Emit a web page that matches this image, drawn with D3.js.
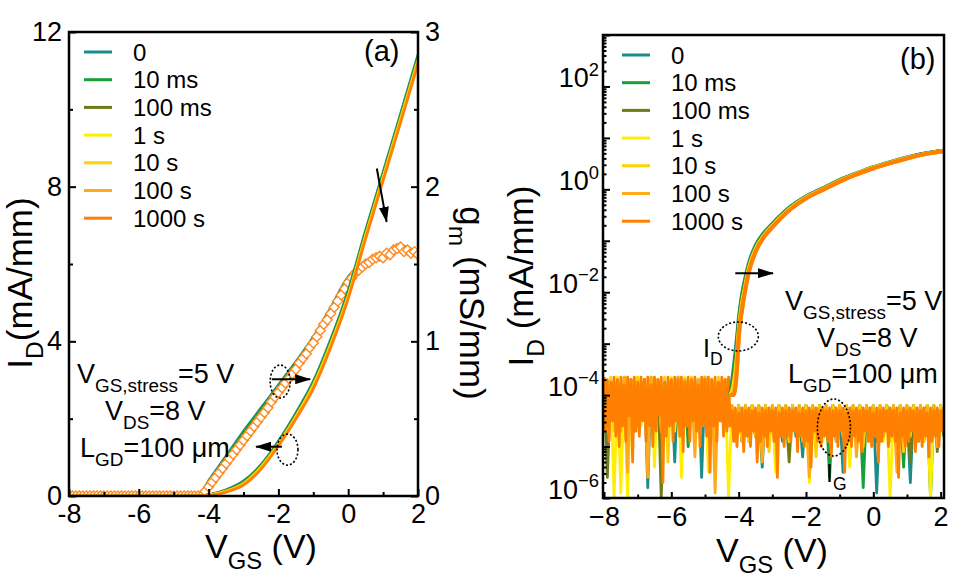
<!DOCTYPE html>
<html>
<head>
<meta charset="utf-8">
<script src="https://cdn.jsdelivr.net/npm/d3@7"></script>
<style>
  html, body { margin: 0; background: #fff; }
  svg { display: block; font-family: "Liberation Sans", Arial, sans-serif; }
</style>
</head>
<body>
<svg id="chart" width="978" height="585"></svg>
<script>
// Transfer curves after gate stress, (a) linear ID + gm, (b) log ID / IG.

const stress_times = ["0", "10 ms", "100 ms", "1 s", "10 s", "100 s", "1000 s"];
const series_colors = ["#1a8c8c", "#17a03a", "#6e7d17", "#ffee00", "#fcd200", "#ffaa1a", "#ff8000"];

// (a) VGS grid (V) shared by the ID and gm lines
const vgs_a = [-8, -4.3, -4.0, -3.5, -3.0, -2.5, -2.0, -1.5, -1.0, -0.5, 0, 0.5, 1.0, 1.5, 2.0];

// (a) ID in mA/mm, one row per stress time
const id_linear = [
  [0, 0, 0.03, 0.16, 0.39, 0.81, 1.42, 2.15, 2.97, 4.06, 5.32, 6.88, 8.38, 9.89, 11.42],
  [0, 0, 0.03, 0.15, 0.37, 0.79, 1.39, 2.11, 2.93, 4.01, 5.27, 6.83, 8.33, 9.84, 11.37],
  [0, 0, 0.02, 0.14, 0.35, 0.77, 1.37, 2.09, 2.90, 3.98, 5.23, 6.79, 8.29, 9.80, 11.32],
  [0, 0, 0.02, 0.13, 0.33, 0.75, 1.35, 2.06, 2.87, 3.94, 5.19, 6.75, 8.25, 9.76, 11.28],
  [0, 0, 0.02, 0.12, 0.31, 0.73, 1.33, 2.04, 2.84, 3.91, 5.16, 6.72, 8.22, 9.72, 11.24],
  [0, 0, 0.01, 0.11, 0.30, 0.71, 1.31, 2.01, 2.80, 3.87, 5.13, 6.68, 8.18, 9.68, 11.20],
  [0, 0, 0.01, 0.10, 0.28, 0.69, 1.29, 1.99, 2.77, 3.84, 5.10, 6.65, 8.15, 9.65, 11.17],
];

// (a) gm in mS/mm drawn as lines for 0 ... 100 s
const gm_lines = [
  [0, 0, 0.10, 0.26, 0.42, 0.57, 0.72, 0.87, 1.03, 1.22, 1.42, 1.52, 1.56, 1.62, 1.57],
  [0, 0, 0.09, 0.25, 0.41, 0.56, 0.71, 0.86, 1.02, 1.21, 1.41, 1.51, 1.56, 1.61, 1.57],
  [0, 0, 0.09, 0.24, 0.40, 0.55, 0.70, 0.85, 1.01, 1.20, 1.40, 1.51, 1.55, 1.61, 1.57],
  [0, 0, 0.08, 0.23, 0.39, 0.54, 0.69, 0.84, 1.00, 1.19, 1.40, 1.50, 1.55, 1.60, 1.56],
  [0, 0, 0.07, 0.22, 0.38, 0.53, 0.68, 0.83, 0.99, 1.18, 1.39, 1.50, 1.55, 1.60, 1.56],
  [0, 0, 0.07, 0.22, 0.37, 0.52, 0.68, 0.83, 0.99, 1.18, 1.39, 1.50, 1.54, 1.60, 1.56],
];

// (a) gm after 1000 s, sampled every 0.1 V from -8 V to 2 V (open diamonds)
const gm_markers = [
  0, 0, 0, 0, 0, 0, 0, 0, 0, 0, 0, 0, 0, 0, 0, 0, 0, 0, 0, 0,
  0, 0, 0, 0, 0, 0, 0, 0, 0, 0, 0, 0, 0, 0, 0, 0, 0, 0,
  0.00, 0.03, 0.06, 0.09, 0.12, 0.15, 0.18, 0.21, 0.24, 0.27,
  0.30, 0.33, 0.36, 0.39, 0.42, 0.45, 0.48, 0.51, 0.54, 0.57,
  0.61, 0.64, 0.67, 0.70, 0.73, 0.76, 0.79, 0.82, 0.86, 0.89,
  0.92, 0.96, 0.99, 1.03, 1.07, 1.11, 1.14, 1.18, 1.22, 1.26,
  1.30, 1.34, 1.38, 1.41, 1.44, 1.46, 1.48, 1.50, 1.51, 1.53,
  1.54, 1.55, 1.54, 1.57, 1.56, 1.59, 1.60, 1.61, 1.58, 1.59,
  1.57, 1.58, 1.56,
];

// (b) on-state ID, log10(mA/mm), on its own VGS grid
const vgs_b = [-4.25, -4.15, -4.05, -4.0, -3.9, -3.8, -3.7, -3.5, -3.25, -3.0, -2.5, -2.0, -1.5, -1.0, -0.5, 0, 0.5, 1.0, 1.5, 2.1];
const id_log = [
  [-4.0, -3.5, -2.9, -2.55, -2.05, -1.72, -1.45, -1.10, -0.85, -0.67, -0.36, -0.14, 0.02, 0.18, 0.31, 0.43, 0.53, 0.62, 0.69, 0.75],
  [-4.0, -3.6, -3.0, -2.62, -2.10, -1.77, -1.49, -1.13, -0.87, -0.69, -0.37, -0.15, 0.01, 0.17, 0.30, 0.42, 0.52, 0.61, 0.69, 0.75],
  [-4.0, -3.7, -3.1, -2.70, -2.16, -1.82, -1.52, -1.15, -0.88, -0.70, -0.38, -0.16, 0.01, 0.17, 0.30, 0.42, 0.52, 0.61, 0.69, 0.75],
  [-4.0, -3.8, -3.25, -2.78, -2.22, -1.87, -1.55, -1.17, -0.90, -0.71, -0.39, -0.16, 0.00, 0.16, 0.30, 0.42, 0.52, 0.61, 0.68, 0.74],
  [-4.0, -3.85, -3.35, -2.84, -2.28, -1.91, -1.58, -1.19, -0.91, -0.72, -0.40, -0.17, 0.00, 0.16, 0.29, 0.41, 0.51, 0.60, 0.68, 0.74],
  [-4.0, -3.95, -3.45, -2.88, -2.32, -1.93, -1.60, -1.21, -0.92, -0.73, -0.40, -0.17, -0.01, 0.15, 0.29, 0.41, 0.51, 0.60, 0.68, 0.74],
  [-4.0, -4.0, -3.5, -2.90, -2.35, -1.95, -1.62, -1.22, -0.93, -0.74, -0.41, -0.18, -0.01, 0.15, 0.29, 0.41, 0.51, 0.60, 0.68, 0.74],
];

// (b) leakage / noise floor, log10(mA/mm); 0 ... 100 s, every 0.1 V from -8 V to 2.1 V
const noise_0 = [
  -3.7, -4.5, -3.75, -4.6, -3.7, -4.4, -3.8, -5.5, -3.7, -4.6, -3.75, -4.5, -3.7, -5.8, -3.7, -4.6, -3.8, -4.4, -3.7, -4.5,
  -3.7, -5.3, -3.75, -4.6, -3.7, -4.5, -3.8, -4.7, -3.7, -5.6, -3.7, -4.5, -3.75, -4.6, -3.7, -4.4, -3.8, -4.6,
  -4.25, -4.8, -4.2, -4.7, -4.3, -4.9, -4.2, -4.6, -4.25, -5.4, -4.2, -4.8, -4.3, -4.7, -4.2, -4.9,
  -4.25, -4.6, -4.2, -4.8, -4.3, -5.2, -4.2, -4.7, -4.25, -4.9, -4.2, -4.6, -4.3, -4.8, -4.2, -4.7,
  -4.25, -5.5, -4.2, -4.8, -4.3, -4.6, -4.2, -4.9, -4.25, -4.7, -4.2, -5.9, -4.3, -4.8, -4.2, -4.6,
  -4.25, -4.9, -4.2, -4.7, -4.3, -5.7, -4.2, -4.8, -4.25, -4.6, -4.2, -4.9, -4.3, -4.7, -4.2, -4.8,
];
const noise_10ms = [
  -3.65, -4.6, -3.7, -4.5, -3.75, -4.7, -3.65, -4.4, -3.7, -4.6, -3.75, -4.5, -3.7, -4.8, -3.65, -4.5, -3.7, -4.6, -3.75, -4.4,
  -3.7, -4.7, -3.65, -4.5, -3.7, -5.0, -3.75, -4.6, -3.7, -4.4, -3.65, -4.6, -3.7, -4.9, -3.75, -4.5, -3.7, -4.6,
  -4.2, -4.7, -4.25, -4.9, -4.2, -4.6, -4.3, -4.8, -4.2, -4.7, -4.25, -4.9, -4.2, -5.3, -4.3, -4.6,
  -4.2, -4.8, -4.25, -4.7, -4.2, -4.9, -4.3, -4.6, -4.2, -4.8, -4.25, -4.7, -4.2, -5.6, -4.3, -4.9,
  -4.2, -4.6, -4.25, -4.8, -4.2, -4.7, -4.3, -5.8, -4.2, -4.6, -4.25, -4.9, -4.2, -4.7, -4.3, -4.8,
  -4.2, -4.6, -4.25, -5.4, -4.2, -4.7, -4.3, -4.9, -4.2, -4.6, -4.25, -6.0, -4.2, -4.7, -4.3, -4.8,
];
const noise_100ms = [
  -3.75, -5.6, -3.7, -4.5, -3.7, -4.6, -3.8, -4.4, -3.7, -4.7, -3.75, -4.5, -3.7, -4.6, -3.75, -4.4, -3.7, -6.0, -3.8, -4.6,
  -3.7, -4.5, -3.75, -4.7, -3.7, -4.4, -3.7, -4.6, -3.8, -4.5, -3.7, -5.2, -3.75, -4.6, -3.7, -4.5, -3.7, -4.4,
  -4.3, -4.7, -4.2, -4.9, -4.25, -4.6, -4.2, -4.8, -4.3, -4.7, -4.2, -4.9, -4.25, -4.6, -4.2, -4.8,
  -4.3, -5.3, -4.2, -4.7, -4.25, -4.9, -4.2, -4.6, -4.3, -4.8, -4.2, -4.7, -4.25, -4.9, -4.2, -4.6,
  -4.3, -4.8, -4.2, -5.2, -4.25, -4.7, -4.2, -4.9, -4.3, -4.6, -4.2, -4.8, -4.25, -4.7, -4.2, -4.9,
  -4.3, -4.6, -4.2, -4.8, -4.25, -5.3, -4.2, -4.7, -4.3, -4.9, -4.2, -4.6, -4.25, -5.1, -4.2, -4.8,
];
const noise_1s = [
  -3.65, -4.6, -3.7, -6.0, -3.65, -5.9, -3.7, -6.0, -3.75, -4.5, -3.65, -4.6, -3.7, -4.4, -3.65, -5.4, -3.7, -4.6, -3.75, -4.5,
  -3.65, -4.7, -3.7, -5.6, -3.65, -4.5, -3.7, -4.6, -3.75, -4.4, -3.65, -5.5, -3.7, -4.6, -3.65, -4.5, -3.7, -6.0,
  -4.2, -4.8, -4.25, -4.6, -4.2, -4.9, -4.3, -4.7, -4.2, -4.8, -4.25, -4.6, -4.2, -5.5, -4.3, -4.7,
  -4.2, -4.9, -4.25, -4.6, -4.2, -4.8, -4.3, -5.7, -4.2, -4.7, -4.25, -4.9, -4.2, -4.6, -4.3, -4.8,
  -4.2, -4.7, -4.25, -5.4, -4.2, -4.9, -4.3, -4.6, -4.2, -4.8, -4.25, -4.7, -4.2, -4.9, -4.3, -6.0,
  -4.2, -4.6, -4.25, -4.8, -4.2, -4.7, -4.3, -4.9, -4.2, -4.6, -4.25, -6.0, -4.2, -4.8, -4.3, -4.7,
];
const noise_10s = [
  -3.7, -4.5, -3.65, -4.7, -3.7, -4.4, -3.75, -5.1, -3.7, -4.6, -3.65, -4.5, -3.7, -4.7, -3.75, -4.4, -3.7, -4.6, -3.65, -5.3,
  -3.7, -4.5, -3.75, -4.6, -3.7, -4.4, -3.65, -4.7, -3.7, -4.5, -3.75, -4.6, -3.7, -5.0, -3.65, -4.5, -3.7, -4.6,
  -4.25, -4.7, -4.2, -4.9, -4.3, -4.6, -4.2, -4.8, -4.25, -4.7, -4.2, -5.1, -4.3, -4.6, -4.2, -4.8,
  -4.25, -4.9, -4.2, -4.7, -4.3, -4.6, -4.2, -4.8, -4.25, -5.2, -4.2, -4.7, -4.3, -4.9, -4.2, -4.6,
  -4.25, -4.8, -4.2, -4.7, -4.3, -4.9, -4.2, -5.0, -4.25, -4.6, -4.2, -4.8, -4.3, -4.7, -4.2, -4.9,
  -4.25, -4.6, -4.2, -5.1, -4.3, -4.8, -4.2, -4.7, -4.25, -4.9, -4.2, -4.6, -4.3, -4.8, -4.2, -4.7,
];
const noise_100s = [
  -3.7, -4.6, -3.75, -4.5, -3.7, -4.7, -3.65, -5.5, -3.7, -4.6, -3.75, -4.4, -3.7, -5.6, -3.65, -4.5, -3.7, -4.7, -3.75, -4.6,
  -3.7, -4.5, -3.65, -4.8, -3.7, -4.6, -3.75, -5.2, -3.7, -4.5, -3.65, -4.6, -3.7, -5.9, -3.75, -4.5, -3.7, -4.6,
  -4.2, -4.9, -4.25, -4.7, -4.2, -4.8, -4.3, -4.6, -4.2, -5.3, -4.25, -4.7, -4.2, -4.9, -4.3, -4.6,
  -4.2, -4.8, -4.25, -4.7, -4.2, -4.9, -4.3, -5.6, -4.2, -4.6, -4.25, -4.8, -4.2, -4.7, -4.3, -4.9,
  -4.2, -4.6, -4.25, -4.8, -4.2, -5.2, -4.3, -4.7, -4.2, -4.9, -4.25, -4.6, -4.2, -4.8, -4.3, -4.7,
  -4.2, -5.5, -4.25, -4.9, -4.2, -4.6, -4.3, -4.8, -4.2, -4.7, -4.25, -4.9, -4.2, -5.0, -4.3, -4.6,
];

// (b) noise floor after 1000 s, every 0.05 V from -8 V to 2.1 V
const noise_1000s = [
  -3.65, -4.7, -3.7, -4.9, -3.75, -4.5, -3.65, -4.8, -3.7, -5.0,
  -3.65, -4.6, -3.8, -4.9, -3.65, -4.4, -3.7, -5.3, -3.65, -4.7,
  -3.75, -4.8, -3.65, -4.5, -3.7, -4.9, -3.65, -4.6, -3.8, -5.0,
  -3.65, -4.7, -3.7, -4.4, -3.65, -5.7, -3.75, -4.8, -3.65, -4.6,
  -3.7, -4.9, -3.65, -4.5, -3.7, -4.8, -3.65, -5.1, -3.75, -4.6,
  -3.65, -4.9, -3.7, -4.5, -3.65, -4.7, -3.8, -5.0, -3.65, -4.6,
  -3.7, -4.8, -3.65, -5.5, -3.7, -4.6, -3.65, -4.9, -3.75, -4.5,
  -3.65, -4.8, -3.7, -4.7, -3.65, -4.6,
  -4.3, -4.9, -4.25, -5.0, -4.35, -4.7, -4.25, -5.1, -4.3, -4.8,
  -4.25, -5.0, -4.3, -4.7, -4.25, -5.3, -4.35, -4.9, -4.25, -4.8,
  -4.3, -5.0, -4.25, -4.7, -4.3, -4.9, -4.25, -5.6, -4.35, -4.8,
  -4.25, -5.0, -4.3, -4.8, -4.25, -4.9, -4.3, -4.7, -4.25, -5.1,
  -4.35, -4.8, -4.25, -5.0, -4.3, -4.9, -4.25, -5.4, -4.3, -4.7,
  -4.25, -4.9, -4.35, -5.0, -4.25, -4.8, -4.3, -4.9, -4.25, -5.2,
  -4.3, -4.8, -4.25, -5.0, -4.3, -4.7, -4.25, -5.5, -4.35, -4.9,
  -4.25, -5.0, -4.3, -4.8, -4.25, -4.9, -4.3, -5.1, -4.25, -4.7,
  -4.3, -4.9, -4.25, -5.0, -4.35, -4.8, -4.25, -5.3, -4.3, -4.9,
  -4.25, -4.7, -4.3, -5.0, -4.25, -4.8, -4.3, -4.9, -4.25, -5.6,
  -4.35, -4.8, -4.25, -5.0, -4.3, -4.9, -4.25, -4.7, -4.3, -5.1,
  -4.25, -4.9, -4.3, -5.0, -4.25, -4.8, -4.35, -5.2, -4.25, -4.9,
  -4.3, -4.8, -4.25, -5.0, -4.3, -4.7, -4.25,
];
const noise_by_series = [noise_0, noise_10ms, noise_100ms, noise_1s, noise_10s, noise_100s, noise_1000s];

const svg = d3.select("#chart");
const defs = svg.append("defs");
defs.append("marker")
  .attr("id", "head")
  .attr("viewBox", "0 0 16 10")
  .attr("markerUnits", "userSpaceOnUse")
  .attr("markerWidth", 16).attr("markerHeight", 10)
  .attr("refX", 15).attr("refY", 5)
  .attr("orient", "auto")
  .append("path").attr("d", "M0,0 L16,5 L0,10 Z").attr("fill", "#000");

// text with sub/superscripts: parts = [[text, kind]], kind "sub" | "sup" | undefined
function rich(text, parts, size, ratio = 0.7) {
  let shift = 0;
  parts.forEach(([str, kind]) => {
    const target = kind === "sub" ? size * 0.32 : kind === "sup" ? -size * 0.42 : 0;
    text.append("tspan")
      .attr("dy", target - shift)
      .attr("font-size", kind ? size * ratio : size)
      .text(str);
    shift = target;
  });
  return text;
}

function clip(id, x0, y0, x1, y1) {
  defs.append("clipPath").attr("id", id)
    .append("rect").attr("x", x0).attr("y", y0).attr("width", x1 - x0).attr("height", y1 - y0);
}

function style_axis(g, size) {
  g.select(".domain").remove();
  g.selectAll("line").attr("stroke", "#000").attr("stroke-width", 2);
  g.selectAll("text").attr("font-size", size).attr("fill", "#000").attr("font-family", null);
}

function legend(left, top) {
  const g = svg.append("g");
  stress_times.forEach((label, i) => {
    const y = top + i * 27.7;
    g.append("line").attr("x1", left).attr("x2", left + 28).attr("y1", y).attr("y2", y)
      .attr("stroke", series_colors[i]).attr("stroke-width", 3);
    g.append("text").attr("x", left + 49).attr("y", y).attr("dy", "0.36em")
      .attr("font-size", 24).text(label);
  });
}

function ellipse(cx, cy, rx, ry) {
  svg.append("ellipse").attr("cx", cx).attr("cy", cy).attr("rx", rx).attr("ry", ry)
    .attr("fill", "none").attr("stroke", "#000").attr("stroke-width", 1.6).attr("stroke-dasharray", "2 2");
}

function arrow(x1, y1, x2, y2) {
  svg.append("line").attr("x1", x1).attr("y1", y1).attr("x2", x2).attr("y2", y2)
    .attr("stroke", "#000").attr("stroke-width", 2).attr("marker-end", "url(#head)");
}

// ---------------- panel (a) ----------------
const x_a = d3.scaleLinear().domain([-8, 2]).range([69, 418]);
const y_id = d3.scaleLinear().domain([0, 12]).range([496, 32]);
const y_gm = d3.scaleLinear().domain([0, 3]).range([496, 32]);
clip("clip_a", 69, 32, 418, 496);

const sweep_markers = d3.range(gm_markers.length).map((i) => -8 + 0.1 * i);
const plot_a = svg.append("g").attr("clip-path", "url(#clip_a)");
const line_gm = d3.line().x((d) => x_a(d[0])).y((d) => y_gm(d[1])).curve(d3.curveMonotoneX);
const line_id = d3.line().x((d) => x_a(d[0])).y((d) => y_id(d[1])).curve(d3.curveMonotoneX);

gm_lines.forEach((row, s) => {
  plot_a.append("path").attr("d", line_gm(row.map((v, i) => [vgs_a[i], v])))
    .attr("fill", "none").attr("stroke", series_colors[s]).attr("stroke-width", 2.4);
});

plot_a.append("g").selectAll("path")
  .data(gm_markers.map((v, i) => [sweep_markers[i], v]))
  .join("path")
  .attr("transform", (d) => `translate(${x_a(d[0])},${y_gm(d[1])})`)
  .attr("d", "M0,-5 L5,0 L0,5 L-5,0 Z")
  .attr("fill", "#fff").attr("stroke", "#ff8a1e").attr("stroke-width", 1.4);

id_linear.forEach((row, s) => {
  plot_a.append("path").attr("d", line_id(row.map((v, i) => [vgs_a[i], v])))
    .attr("fill", "none").attr("stroke", series_colors[s]).attr("stroke-width", 2.6);
});

const ax_a_bottom = svg.append("g").attr("transform", "translate(0,496)")
  .call(d3.axisBottom(x_a).tickValues([-8, -6, -4, -2, 0, 2]).tickSize(-7).tickPadding(8).tickFormat((d) => String(d)));
style_axis(ax_a_bottom, 27);
svg.append("g").attr("transform", "translate(0,496)")
  .call(d3.axisBottom(x_a).tickValues([-7, -5, -3, -1, 1]).tickSize(-4).tickFormat(""))
  .call((g) => style_axis(g, 27));

const ax_a_left = svg.append("g").attr("transform", "translate(69,0)")
  .call(d3.axisLeft(y_id).tickValues([0, 4, 8, 12]).tickSize(-7).tickPadding(7).tickFormat(d3.format("d")));
style_axis(ax_a_left, 27);
svg.append("g").attr("transform", "translate(69,0)")
  .call(d3.axisLeft(y_id).tickValues([2, 6, 10]).tickSize(-4).tickFormat(""))
  .call((g) => style_axis(g, 27));

const ax_a_right = svg.append("g").attr("transform", "translate(418,0)")
  .call(d3.axisRight(y_gm).tickValues([0, 1, 2, 3]).tickSize(-7).tickPadding(7).tickFormat(d3.format("d")));
style_axis(ax_a_right, 27);
svg.append("g").attr("transform", "translate(418,0)")
  .call(d3.axisRight(y_gm).tickValues([0.5, 1.5, 2.5]).tickSize(-4).tickFormat(""))
  .call((g) => style_axis(g, 27));

svg.append("rect").attr("x", 69).attr("y", 32).attr("width", 349).attr("height", 464)
  .attr("fill", "none").attr("stroke", "#000").attr("stroke-width", 2.5);

legend(84, 52);
svg.append("text").attr("x", 364).attr("y", 61).attr("font-size", 29).text("(a)");

rich(svg.append("text").attr("x", 77).attr("y", 383), [["V"], ["GS,stress", "sub"], ["=5 V"]], 27);
rich(svg.append("text").attr("x", 105).attr("y", 420), [["V"], ["DS", "sub"], ["=8 V"]], 27);
rich(svg.append("text").attr("x", 80).attr("y", 457), [["L"], ["GD", "sub"], ["=100 μm"]], 27);

// annotations placed in data units
ellipse(x_a(-1.95), y_gm(0.74), 10, 16.5);
arrow(x_a(-2.19), y_gm(0.755), x_a(-1.09), y_gm(0.755));
ellipse(x_a(-1.74), y_id(1.20), 10.5, 15.5);
arrow(x_a(-1.9), y_id(1.275), x_a(-2.64), y_id(1.275));
arrow(x_a(0.82), y_id(8.47), x_a(1.1), y_id(7.09));

rich(svg.append("text").attr("x", 261).attr("y", 558).attr("text-anchor", "middle"),
  [["V"], ["GS", "sub"], [" (V)"]], 34);
rich(svg.append("text").attr("transform", "translate(32,283) rotate(-90)").attr("text-anchor", "middle"),
  [["I"], ["D", "sub"], ["(mA/mm)"]], 35);
rich(svg.append("text").attr("transform", "translate(460,303) rotate(90)").attr("text-anchor", "middle"),
  [["g"], ["m", "sub"], [" (mS/mm)"]], 35);

// ---------------- panel (b) ----------------
const x_b = d3.scaleLinear().domain([-8.03, 2.1]).range([603, 944]);
const y_b = d3.scaleLog().domain([1e-6, 1e3]).range([498, 35]);
clip("clip_b", 603, 35, 944, 498);

const plot_b = svg.append("g").attr("clip-path", "url(#clip_b)");
const line_b = d3.line().x((d) => x_b(d[0])).y((d) => y_b(Math.pow(10, d[1])));
const line_b_smooth = d3.line().x((d) => x_b(d[0])).y((d) => y_b(Math.pow(10, d[1]))).curve(d3.curveMonotoneX);

noise_by_series.forEach((row, s) => {
  const step = 10.1 / (row.length - 1);
  plot_b.append("path").attr("d", line_b(row.map((v, i) => [-8 + step * i, v])))
    .attr("fill", "none").attr("stroke", series_colors[s]).attr("stroke-width", 2.8)
    .attr("stroke-linejoin", "round");
});
id_log.forEach((row, s) => {
  plot_b.append("path").attr("d", line_b_smooth(row.map((v, i) => [vgs_b[i], v])))
    .attr("fill", "none").attr("stroke", series_colors[s]).attr("stroke-width", 4);
});

const ax_b_bottom = svg.append("g").attr("transform", "translate(0,498)")
  .call(d3.axisBottom(x_b).tickValues([-8, -6, -4, -2, 0, 2]).tickSize(-6).tickPadding(9).tickFormat(d3.format("d")));
style_axis(ax_b_bottom, 27);
svg.append("g").attr("transform", "translate(0,498)")
  .call(d3.axisBottom(x_b).tickValues([-7, -5, -3, -1, 1]).tickSize(-3.5).tickFormat(""))
  .call((g) => style_axis(g, 27));

const decades = d3.range(-6, 4).map((e) => Math.pow(10, e));
const minors = y_b.ticks().filter((t) => !decades.some((d) => Math.abs(t / d - 1) < 1e-6));
svg.append("g").attr("transform", "translate(603,0)")
  .call(d3.axisLeft(y_b).tickValues(minors).tickSize(-3.5).tickFormat(""))
  .call((g) => style_axis(g, 27));
const ax_b_left = svg.append("g").attr("transform", "translate(603,0)")
  .call(d3.axisLeft(y_b).tickValues(decades).tickSize(-7).tickFormat(""));
style_axis(ax_b_left, 27);
ax_b_left.selectAll(".tick").filter((d) => Math.round(Math.log10(d)) % 2 === 0)
  .each(function (d) {
    const t = d3.select(this).append("text")
      .attr("x", -4).attr("dy", "0.34em").attr("text-anchor", "end").attr("fill", "#000");
    rich(t, [["10"], [d3.format("d")(Math.round(Math.log10(d))), "sup"]], 27, 0.68);
  });

svg.append("rect").attr("x", 603).attr("y", 35).attr("width", 341).attr("height", 463)
  .attr("fill", "none").attr("stroke", "#000").attr("stroke-width", 2.5);

legend(622, 55);
svg.append("text").attr("x", 900).attr("y", 69).attr("font-size", 29).text("(b)");

rich(svg.append("text").attr("x", 785).attr("y", 310), [["V"], ["GS,stress", "sub"], ["=5 V"]], 27);
rich(svg.append("text").attr("x", 817).attr("y", 347), [["V"], ["DS", "sub"], ["=8 V"]], 27);
rich(svg.append("text").attr("x", 788).attr("y", 383), [["L"], ["GD", "sub"], ["=100 μm"]], 27);

rich(svg.append("text").attr("x", 703).attr("y", 357), [["I"], ["D", "sub"]], 25);
rich(svg.append("text").attr("x", 826).attr("y", 482), [["I"], ["G", "sub"]], 25);
ellipse(x_b(-4.01), y_b(Math.pow(10, -2.86)), 20, 14.5);
ellipse(x_b(-1.17), y_b(Math.pow(10, -4.63)), 16.5, 28.5);
arrow(x_b(-4.1), y_b(Math.pow(10, -1.63)), x_b(-2.98), y_b(Math.pow(10, -1.63)));

rich(svg.append("text").attr("x", 772).attr("y", 562).attr("text-anchor", "middle"),
  [["V"], ["GS", "sub"], [" (V)"]], 34);
rich(svg.append("text").attr("transform", "translate(533,276) rotate(-90)").attr("text-anchor", "middle"),
  [["I"], ["D", "sub"], [" (mA/mm)"]], 35);
</script>
</body>
</html>
